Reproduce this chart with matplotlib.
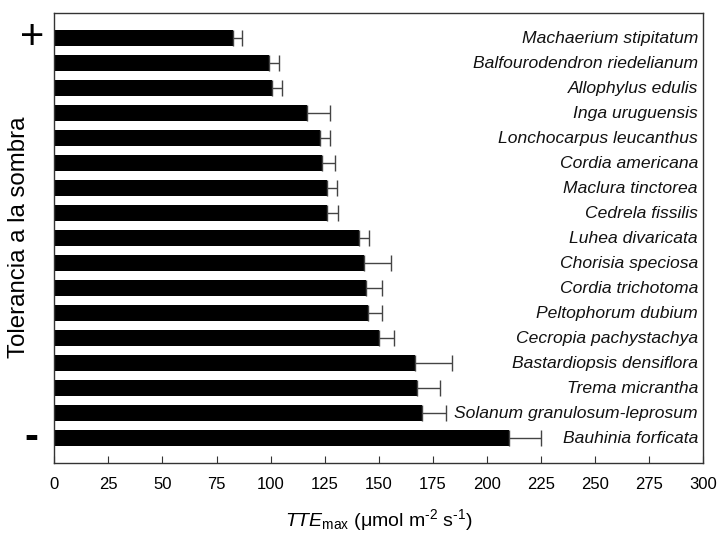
import numpy as np
import matplotlib
matplotlib.use('Agg')
import matplotlib.pyplot as plt
from matplotlib.transforms import blended_transform_factory

plt.rcParams['font.family'] = ['Liberation Sans', 'DejaVu Sans']
plt.rcParams['mathtext.fontset'] = 'custom'
plt.rcParams['mathtext.rm'] = 'Liberation Sans'
plt.rcParams['mathtext.it'] = 'Liberation Sans:italic'

# especies, de mayor a menor tolerancia a la sombra
especies = ['Machaerium stipitatum', 'Balfourodendron riedelianum', 'Allophylus edulis',
            'Inga uruguensis', 'Lonchocarpus leucanthus', 'Cordia americana',
            'Maclura tinctorea', 'Cedrela fissilis', 'Luhea divaricata',
            'Chorisia speciosa', 'Cordia trichotoma', 'Peltophorum dubium',
            'Cecropia pachystachya', 'Bastardiopsis densiflora', 'Trema micrantha',
            'Solanum granulosum-leprosum', 'Bauhinia forficata']
tte_max = [82.4, 99.4, 100.8, 117.0, 123.0, 123.6, 125.9, 126.3, 140.8,
           143.4, 143.9, 145.1, 149.9, 166.9, 167.5, 170.0, 210.1]
error = [4.4, 4.5, 4.5, 10.7, 4.7, 6.4, 4.7, 4.8, 4.6,
         12.5, 7.5, 6.5, 7.3, 17.2, 10.9, 11.1, 14.8]
xticks = np.arange(0, 301, 25)

fig = plt.figure(figsize=(7.19, 5.34), dpi=100)
ax = fig.add_axes([0.0755, 0.1324, 0.9025, 0.8426])

y = np.arange(len(especies))[::-1]
ax.barh(y, tte_max, height=0.63, color='black',
        xerr=[np.zeros(len(error)), error],
        error_kw=dict(ecolor='#444444', elinewidth=1.0, capsize=5.5, capthick=1.0))

for yi, nombre in zip(y, especies):
    ax.text(297.6, yi, nombre, ha='right', va='center', style='italic', fontsize=12.6, color='#111111')

ax.set_xlim(0, 300)
ax.set_ylim(-1, len(especies))
ax.set_xticks(xticks)
ax.set_xticklabels([str(t) for t in xticks], fontsize=12)
ax.set_yticks([])
ax.tick_params(axis='x', direction='in', length=5, width=0.8, color='#333333', pad=10)
for s in ax.spines.values():
    s.set_color('#333333')
    s.set_linewidth(1.0)

ax.set_xlabel(r'$\mathit{TTE}_{\mathrm{max}}$ ($\mathrm{\mu}$mol m$^{\text{-2}}$ s$^{\text{-1}}$)',
              fontsize=14, labelpad=11)
fig.text(0.027, 0.555, 'Tolerancia a la sombra', rotation=90, ha='center', va='center', fontsize=17.3)
trans = blended_transform_factory(fig.transFigure, ax.transData)
fig.text(0.044, y[0], '+', transform=trans, ha='center', va='center', fontsize=30)
fig.text(0.044, y[-1], '-', transform=trans, ha='center', va='center', fontsize=30, fontweight='bold')

fig.savefig('out.png', dpi=100)
